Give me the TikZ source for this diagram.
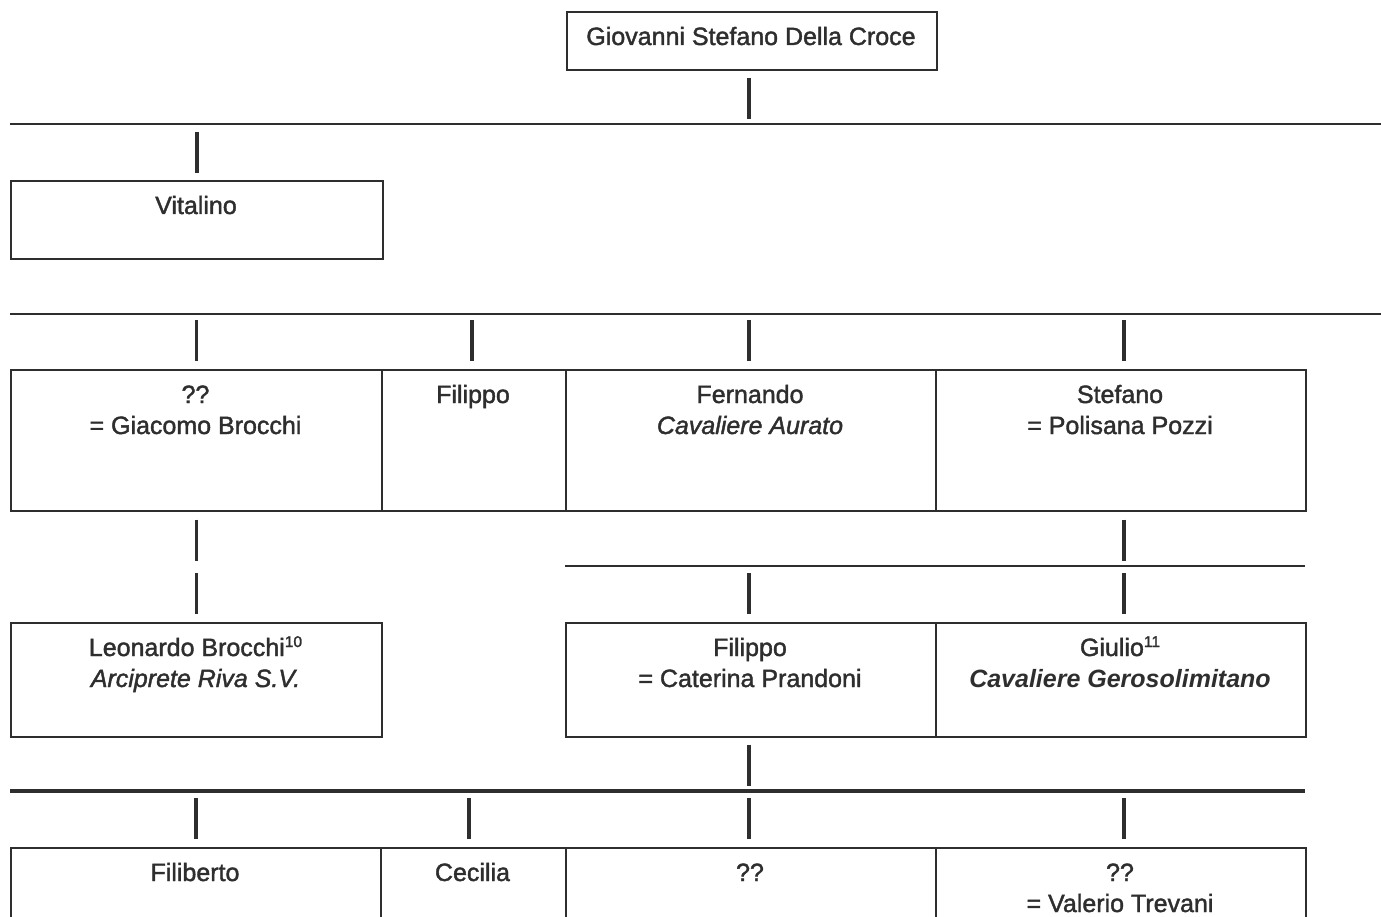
\documentclass[tikz,border=0pt]{standalone}
\usepackage{fontspec}
\setmainfont{Liberation Sans}[UprightFeatures={FakeBold=1.6}, ItalicFeatures={FakeBold=1.6}]
\definecolor{ink}{HTML}{2E2E2E}
\newcommand{\supnum}[1]{\raisebox{9pt}{\fontsize{15.5}{15.5}\selectfont #1}}
\begin{document}
\begin{tikzpicture}[x=1pt,y=1pt,
  box/.style={draw=ink, line width=1.7pt, rectangle, inner sep=0pt, anchor=north west},
  bar/.style={draw=ink, line width=3.3pt},
  hline/.style={draw=ink, line width=2.5pt},
  hthick/.style={draw=ink, line width=3.6pt},
  txt/.style={anchor=base, inner sep=0pt, text=ink, font=\fontsize{25}{31}\selectfont}]
\clip (0,0) rectangle (1381,-917);
% boxes
\node[box, minimum width=370pt, minimum height=58pt] (g) at (566,-11) {};
\node[box, minimum width=372pt, minimum height=78pt] (vit) at (10,-180) {};
\node[box, minimum width=371pt, minimum height=141pt] (a) at (10,-369) {};
\node[box, minimum width=184pt, minimum height=141pt] (b) at (381,-369) {};
\node[box, minimum width=370pt, minimum height=141pt] (c) at (565,-369) {};
\node[box, minimum width=370pt, minimum height=141pt] (d) at (935,-369) {};
\node[box, minimum width=371pt, minimum height=114pt] (leo) at (10,-622) {};
\node[box, minimum width=370pt, minimum height=114pt] (fil) at (565,-622) {};
\node[box, minimum width=370pt, minimum height=114pt] (giu) at (935,-622) {};
\node[box, minimum width=370pt, minimum height=100pt] (fb) at (10,-847) {};
\node[box, minimum width=185pt, minimum height=100pt] (cec) at (380,-847) {};
\node[box, minimum width=370pt, minimum height=100pt] (q1) at (565,-847) {};
\node[box, minimum width=370pt, minimum height=100pt] (q2) at (935,-847) {};
% texts
\node[txt] (gt) at (751,-45) {Giovanni Stefano Della Croce};
\node[txt] (vitt) at (196,-214) {Vitalino};
\node[txt] (a1) at (195.5,-403) {??};
\node[txt] (a2) at (195.5,-434) {= Giacomo Brocchi};
\node[txt] (b1) at (473,-403) {Filippo};
\node[txt] (c1) at (750,-403) {Fernando};
\node[txt] (c2) at (750,-434) {\itshape Cavaliere Aurato};
\node[txt] (d1) at (1120,-403) {Stefano};
\node[txt] (d2) at (1120,-434) {= Polisana Pozzi};
\node[txt] (leo1) at (195.5,-656) {Leonardo Brocchi\supnum{10}};
\node[txt] (leo2) at (195.5,-687) {\itshape Arciprete Riva S.V.};
\node[txt] (fil1) at (750,-656) {Filippo};
\node[txt] (fil2) at (750,-687) {= Caterina Prandoni};
\node[txt] (giu1) at (1120,-656) {Giulio\supnum{11}};
\node[txt] (giu2) at (1120,-687) {\bfseries\itshape Cavaliere Gerosolimitano};
\node[txt] (fbt) at (195,-881) {Filiberto};
\node[txt] (cect) at (472.5,-881) {Cecilia};
\node[txt] (q1t) at (750,-881) {??};
\node[txt] (q2a) at (1120,-881) {??};
\node[txt] (q2b) at (1120,-912) {= Valerio Trevani};
% horizontal lines
\coordinate (h1l) at (10,-124); \coordinate (h1r) at (1381,-124);
\coordinate (h2l) at (10,-314); \coordinate (h2r) at (1381,-314);
\coordinate (h3l) at (565,-566); \coordinate (h3r) at (1305,-566);
\coordinate (h4l) at (10,-791); \coordinate (h4r) at (1305,-791);
\draw[hline] (h1l) -- (h1r);
\draw[hline] (h2l) -- (h2r);
\draw[hline] (h3l) -- (h3r);
\draw[hthick] (h4l) -- (h4r);
% bars
\draw[bar] ([xshift=-3pt,yshift=-7pt]g.south) -- ([xshift=-3pt,yshift=-48pt]g.south);
\draw[bar] ([yshift=7pt]vit.north) -- ([yshift=48pt]vit.north);
\draw[bar] ([yshift=8pt]a.north) -- ([yshift=49pt]a.north);
\draw[bar] ([xshift=-2pt,yshift=8pt]b.north) -- ([xshift=-2pt,yshift=49pt]b.north);
\draw[bar] ([xshift=-2pt,yshift=8pt]c.north) -- ([xshift=-2pt,yshift=49pt]c.north);
\draw[bar] ([xshift=3pt,yshift=8pt]d.north) -- ([xshift=3pt,yshift=49pt]d.north);
\draw[bar] ([yshift=-8pt]a.south) -- ([yshift=-49pt]a.south);
\draw[bar] ([yshift=8pt]leo.north) -- ([yshift=49pt]leo.north);
\draw[bar] ([xshift=3pt,yshift=-8pt]d.south) -- ([xshift=3pt,yshift=-49pt]d.south);
\draw[bar] ([xshift=-2pt,yshift=8pt]fil.north) -- ([xshift=-2pt,yshift=49pt]fil.north);
\draw[bar] ([xshift=3pt,yshift=8pt]giu.north) -- ([xshift=3pt,yshift=49pt]giu.north);
\draw[bar] ([xshift=-2pt,yshift=-7pt]fil.south) -- ([xshift=-2pt,yshift=-48pt]fil.south);
\draw[bar] ([yshift=8pt]fb.north) -- ([yshift=49pt]fb.north);
\draw[bar] ([xshift=-4.5pt,yshift=8pt]cec.north) -- ([xshift=-4.5pt,yshift=49pt]cec.north);
\draw[bar] ([xshift=-2pt,yshift=8pt]q1.north) -- ([xshift=-2pt,yshift=49pt]q1.north);
\draw[bar] ([xshift=3pt,yshift=8pt]q2.north) -- ([xshift=3pt,yshift=49pt]q2.north);
\end{tikzpicture}
\end{document}
